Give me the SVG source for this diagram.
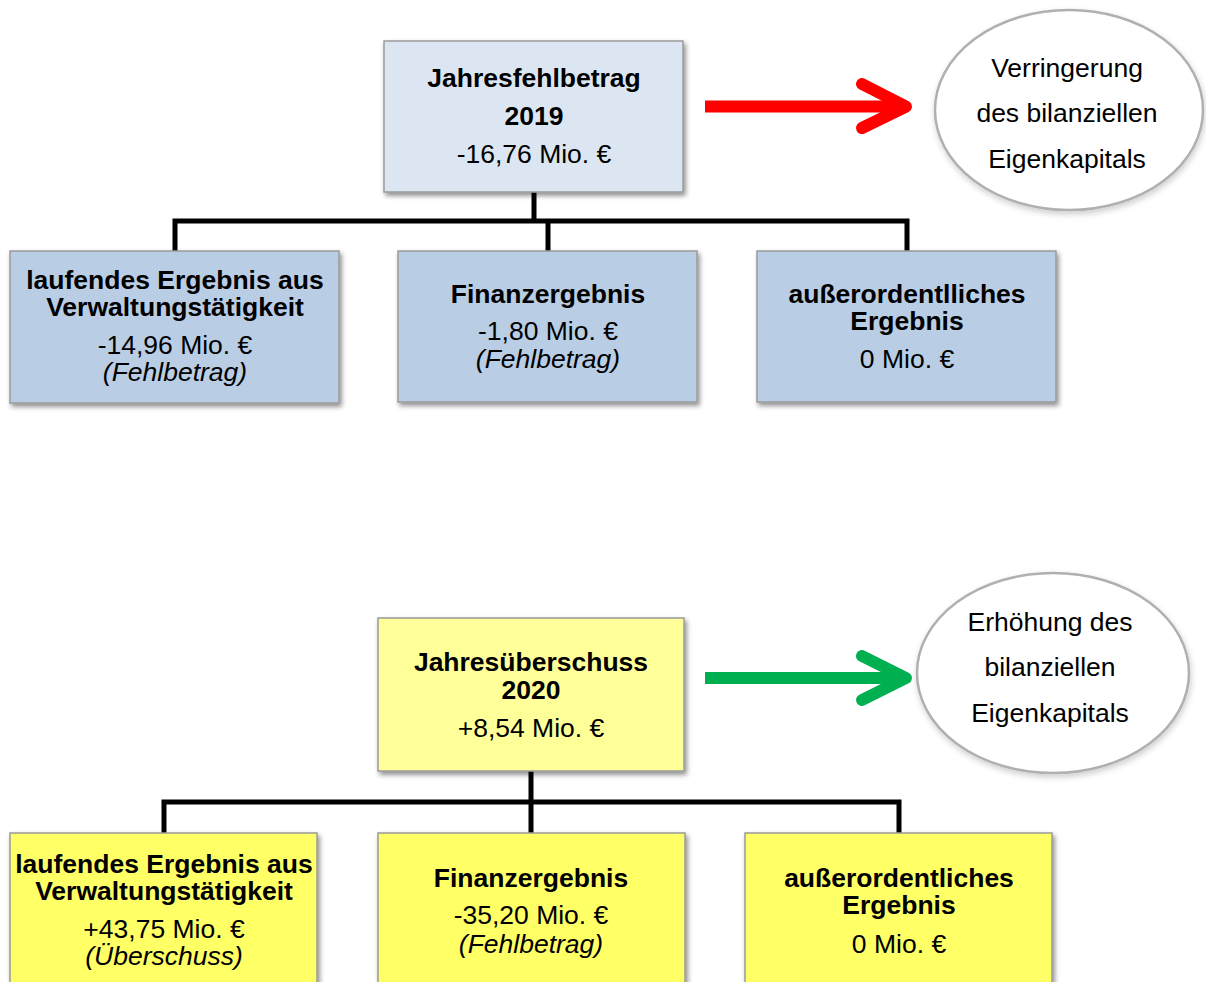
<svg xmlns="http://www.w3.org/2000/svg" width="1206" height="982" viewBox="0 0 1206 982">
<defs>
<filter id="sh" x="-10%" y="-10%" width="130%" height="130%">
<feGaussianBlur in="SourceAlpha" stdDeviation="2.5"/>
<feOffset dx="2" dy="3" result="b"/>
<feComponentTransfer><feFuncA type="linear" slope="0.45"/></feComponentTransfer>
<feMerge><feMergeNode/><feMergeNode in="SourceGraphic"/></feMerge>
</filter>
<filter id="sh2" x="-10%" y="-10%" width="130%" height="130%">
<feGaussianBlur in="SourceAlpha" stdDeviation="3"/>
<feOffset dx="1" dy="3" result="b"/>
<feComponentTransfer><feFuncA type="linear" slope="0.2"/></feComponentTransfer>
<feMerge><feMergeNode/><feMergeNode in="SourceGraphic"/></feMerge>
</filter>
</defs>
<style>
text{font-family:"Liberation Sans",Arial,sans-serif;font-size:26.5px;fill:#000;text-anchor:middle}
.b{font-weight:bold}
.i{font-style:italic}
.box{stroke:#9a9a9a;stroke-width:1.5;filter:url(#sh)}
.rootA{fill:#dce6f2}
.childA{fill:#b9cde5}
.rootB{fill:#ffff99}
.childB{fill:#ffff66}
.ell{fill:#fff;stroke:#b0b0b0;stroke-width:2.5;filter:url(#sh2)}
.conn{fill:none;stroke:#000;stroke-width:5}
.shaft{fill:none;stroke-width:12;stroke-linecap:butt}
.head{fill:none;stroke-width:12;stroke-linecap:round;stroke-linejoin:round}
</style>
<g id="connectors">
<path class="conn" d="M534,192 V221 M175,251 V221 H907 V251 M548,221 V251"/>
<path class="conn" d="M531,771 V802 M164,833 V802 H899 V833 M531,802 V833"/>
<path class="shaft" stroke="#ff0000" d="M705,106.5 H900"/>
<path class="head" stroke="#ff0000" d="M862,84 L906,106.5 L862,128"/>
<path class="shaft" stroke="#00b050" d="M705,678 H900"/>
<path class="head" stroke="#00b050" d="M862,656 L906,678 L862,700"/>
</g>
<g id="root2019">
<rect class="box rootA" x="384" y="41" width="299" height="151"/>
<text class="b" x="534" y="87">Jahresfehlbetrag</text>
<text class="b" x="534" y="125">2019</text>
<text x="534" y="163">-16,76 Mio. €</text>
</g>
<g id="lfd2019">
<rect class="box childA" x="10" y="251" width="329" height="152"/>
<text class="b" x="175" y="289">laufendes Ergebnis aus</text>
<text class="b" x="175" y="316">Verwaltungstätigkeit</text>
<text x="175" y="354">-14,96 Mio. €</text>
<text class="i" x="175" y="381">(Fehlbetrag)</text>
</g>
<g id="fin2019">
<rect class="box childA" x="398" y="251" width="299" height="151"/>
<text class="b" x="548" y="303">Finanzergebnis</text>
<text x="548" y="340">-1,80 Mio. €</text>
<text class="i" x="548" y="368">(Fehlbetrag)</text>
</g>
<g id="ao2019">
<rect class="box childA" x="757" y="251" width="299" height="151"/>
<text class="b" x="907" y="303">außerordentlliches</text>
<text class="b" x="907" y="330">Ergebnis</text>
<text x="907" y="368">0 Mio. €</text>
</g>
<g id="ell2019">
<ellipse class="ell" cx="1069" cy="110" rx="134" ry="100"/>
<text x="1067" y="77">Verringerung</text>
<text x="1067" y="122">des bilanziellen</text>
<text x="1067" y="168">Eigenkapitals</text>
</g>
<g id="root2020">
<rect class="box rootB" x="378" y="618" width="306" height="153"/>
<text class="b" x="531" y="671">Jahresüberschuss</text>
<text class="b" x="531" y="699">2020</text>
<text x="531" y="737">+8,54 Mio. €</text>
</g>
<g id="lfd2020">
<rect class="box childB" x="10" y="833" width="307" height="160"/>
<text class="b" x="164" y="873">laufendes Ergebnis aus</text>
<text class="b" x="164" y="900">Verwaltungstätigkeit</text>
<text x="164" y="938">+43,75 Mio. €</text>
<text class="i" x="164" y="965">(Überschuss)</text>
</g>
<g id="fin2020">
<rect class="box childB" x="378" y="833" width="307" height="160"/>
<text class="b" x="531" y="887">Finanzergebnis</text>
<text x="531" y="924">-35,20 Mio. €</text>
<text class="i" x="531" y="953">(Fehlbetrag)</text>
</g>
<g id="ao2020">
<rect class="box childB" x="745" y="833" width="307" height="160"/>
<text class="b" x="899" y="887">außerordentliches</text>
<text class="b" x="899" y="914">Ergebnis</text>
<text x="899" y="953">0 Mio. €</text>
</g>
<g id="ell2020">
<ellipse class="ell" cx="1053" cy="673" rx="136" ry="100"/>
<text x="1050" y="631">Erhöhung des</text>
<text x="1050" y="676">bilanziellen</text>
<text x="1050" y="722">Eigenkapitals</text>
</g>
</svg>
